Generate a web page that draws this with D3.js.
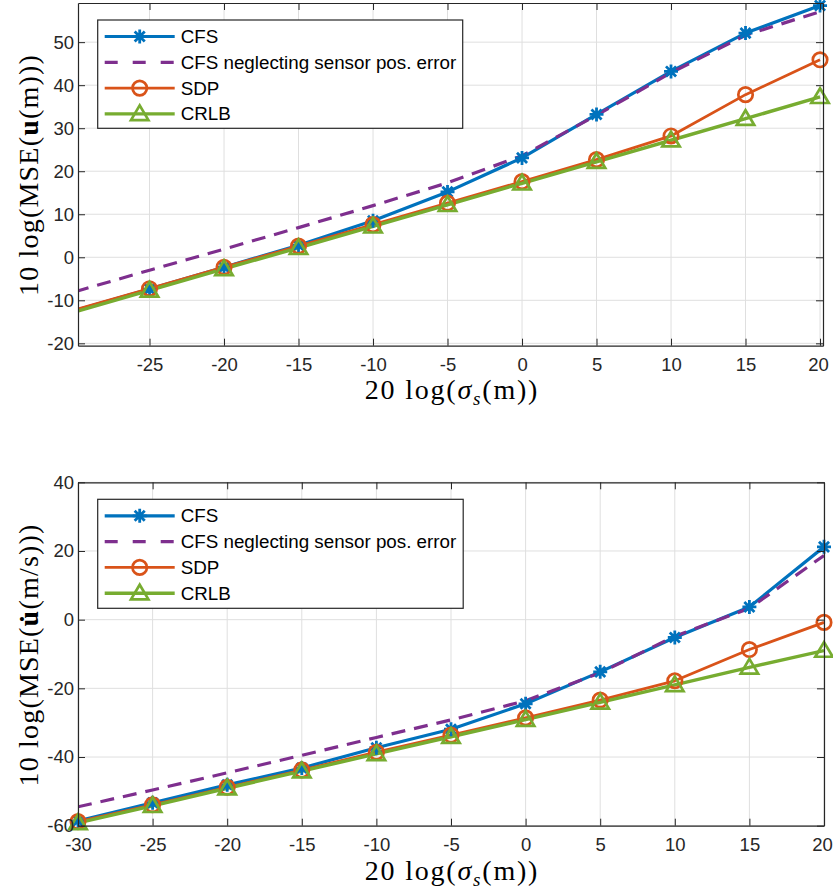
<!DOCTYPE html>
<html>
<head>
<meta charset="utf-8">
<script src="https://cdn.jsdelivr.net/npm/d3@7"></script>
<style>
  html, body { margin: 0; padding: 0; background: #fff; }
  svg { display: block; }
</style>
</head>
<body>
<svg id="chart" width="833" height="894"></svg>
<script>
// Sensor position noise level, 20 log(sigma_s) in dB
const sigma = [-30, -25, -20, -15, -10, -5, 0, 5, 10, 15, 20];

// Position MSE, 10 log(MSE(u)) in dB
const posCFS        = [-12.4, -7.4, -2.3, 2.8, 8.5, 15.2, 23.1, 33.2, 43.2, 52.1, 58.5];
const posCFSNeglect = [-8.0, -3.0, 1.9, 6.9, 12.0, 17.3, 23.6, 33.0, 42.9, 51.6, 57.1];
const posSDP        = [-12.2, -7.3, -2.3, 2.6, 7.6, 12.6, 17.6, 22.7, 28.2, 37.8, 45.9];
const posCRLB       = [-12.7, -7.7, -2.7, 2.2, 7.2, 12.2, 17.2, 22.2, 27.2, 32.2, 37.3];

// Velocity MSE, 10 log(MSE(u dot)) in dB
const velCFS        = [-58.6, -53.3, -48.1, -43.2, -37.3, -31.9, -24.5, -15.2, -5.2, 3.7, 21.2];
const velCFSNeglect = [-54.5, -49.6, -44.6, -39.5, -34.3, -29.2, -23.6, -15.5, -4.8, 3.3, 18.7];
const velSDP        = [-58.8, -53.9, -48.8, -43.8, -38.6, -33.6, -28.6, -23.4, -17.8, -8.7, -0.8];
const velCRLB       = [-59.2, -54.2, -49.1, -44.1, -39.1, -34.1, -29.1, -24.1, -19.0, -13.9, -9.0];

const seriesNames  = ["CFS", "CFS neglecting sensor pos. error", "SDP", "CRLB"];
const seriesColors = ["#0072BD", "#7E2F8E", "#D95319", "#77AC30"];
const seriesMarkers = ["star", "none", "circle", "triangle"];
const seriesDash   = [null, "14,9", null, null];
const seriesWidth  = [3.2, 3.2, 2.8, 3.4];

// Tick values for each panel
const xTicksTop    = [-25, -20, -15, -10, -5, 0, 5, 10, 15, 20];
const yTicksTop    = [-20, -10, 0, 10, 20, 30, 40, 50];
const xTicksBottom = [-30, -25, -20, -15, -10, -5, 0, 5, 10, 15, 20];
const yTicksBottom = [-60, -40, -20, 0, 20, 40];

const svg = d3.select("#chart");
const axisColor = "#262626";
const gridColor = "#dfdfdf";
const tickFont = "'Liberation Sans', Arial, sans-serif";
const mathFont = "'Liberation Serif', 'Times New Roman', serif";

function markerPath(kind) {
  if (kind === "star") {
    const r = 7, d = r * 0.72;
    return `M${-r},0L${r},0M0,${-r}L0,${r}M${-d},${-d}L${d},${d}M${-d},${d}L${d},${-d}`;
  }
  if (kind === "circle") {
    const r = 7.2;
    return `M${r},0A${r},${r} 0 1,1 ${-r},0A${r},${r} 0 1,1 ${r},0Z`;
  }
  if (kind === "triangle") {
    return "M0,-8.5L8.7,6.2L-8.7,6.2Z";
  }
  return null;
}

function drawPanel(cfg) {
  const g = svg.append("g");
  const x = d3.scaleLinear().domain(cfg.xDomain).range([cfg.left, cfg.right]);
  const y = d3.scaleLinear().domain(cfg.yDomain).range([cfg.bottom, cfg.top]);

  const clipId = "clip-" + cfg.id;
  svg.append("defs").append("clipPath").attr("id", clipId)
    .append("rect")
    .attr("x", cfg.left).attr("y", cfg.top)
    .attr("width", cfg.right - cfg.left).attr("height", cfg.bottom - cfg.top);

  // grid
  const grid = g.append("g");
  grid.selectAll("line.gx").data(cfg.xTicks).join("line")
    .attr("x1", d => x(d)).attr("x2", d => x(d))
    .attr("y1", cfg.top).attr("y2", cfg.bottom)
    .attr("stroke", gridColor).attr("stroke-width", 1);
  grid.selectAll("line.gy").data(cfg.yTicks).join("line")
    .attr("class", "gy")
    .attr("x1", cfg.left).attr("x2", cfg.right)
    .attr("y1", d => y(d)).attr("y2", d => y(d))
    .attr("stroke", gridColor).attr("stroke-width", 1);

  // series lines
  const lineGen = d3.line().x(d => x(d[0])).y(d => y(d[1]));
  const lines = g.append("g").attr("clip-path", `url(#${clipId})`);
  cfg.series.forEach((vals, i) => {
    const pts = sigma.map((s, k) => [s, vals[k]]);
    lines.append("path")
      .attr("d", lineGen(pts))
      .attr("fill", "none")
      .attr("stroke", seriesColors[i])
      .attr("stroke-width", seriesWidth[i])
      .attr("stroke-dasharray", seriesDash[i])
      .attr("stroke-linejoin", "round");
  });
  // markers at the sample points inside the x range
  const marks = g.append("g");
  cfg.series.forEach((vals, i) => {
    const p = markerPath(seriesMarkers[i]);
    if (!p) return;
    const pts = sigma.map((s, k) => [s, vals[k]])
      .filter(d => d[0] >= cfg.xDomain[0] && d[0] <= cfg.xDomain[1]);
    marks.selectAll(null).data(pts).join("path")
      .attr("d", p)
      .attr("transform", d => `translate(${x(d[0])},${y(d[1])})`)
      .attr("fill", "none")
      .attr("stroke", seriesColors[i])
      .attr("stroke-width", seriesMarkers[i] === "star" ? 2.8 : 2.7)
      .attr("stroke-linejoin", "miter");
  });

  // axes (box with inward ticks)
  const tk = 7;
  const fmt = d => d3.format("d")(d).replace("\u2212", "-");
  const axB = g.append("g").attr("transform", `translate(0,${cfg.bottom})`)
    .call(d3.axisBottom(x).tickValues(cfg.xTicks).tickSizeInner(-tk).tickSizeOuter(0).tickPadding(12).tickFormat(fmt));
  const axT = g.append("g").attr("transform", `translate(0,${cfg.top})`)
    .call(d3.axisTop(x).tickValues(cfg.xTicks).tickSizeInner(-tk).tickSizeOuter(0).tickFormat(""));
  const axL = g.append("g").attr("transform", `translate(${cfg.left},0)`)
    .call(d3.axisLeft(y).tickValues(cfg.yTicks).tickSizeInner(-tk).tickSizeOuter(0).tickPadding(4).tickFormat(fmt));
  const axR = g.append("g").attr("transform", `translate(${cfg.right},0)`)
    .call(d3.axisRight(y).tickValues(cfg.yTicks).tickSizeInner(-tk).tickSizeOuter(0).tickFormat(""));
  [axB, axT, axL, axR].forEach(a => {
    a.select(".domain").attr("stroke", axisColor).attr("stroke-width", 1.2);
    a.selectAll(".tick line").attr("stroke", axisColor).attr("stroke-width", 1);
    a.selectAll(".tick text")
      .attr("fill", axisColor)
      .style("font-family", tickFont)
      .style("font-size", "18.5px");
  });
  // keep the last x tick label inside the page
  axB.selectAll(".tick text").filter(d => d === cfg.xTicks[cfg.xTicks.length - 1])
    .attr("x", -2);

  // legend
  const lg = g.append("g");
  lg.append("rect")
    .attr("x", cfg.legend.x).attr("y", cfg.legend.y)
    .attr("width", cfg.legend.w).attr("height", cfg.legend.h)
    .attr("fill", "#fff").attr("stroke", axisColor).attr("stroke-width", 1.2);
  seriesNames.forEach((name, i) => {
    const ly = cfg.legend.y + 16.5 + i * 25.8;
    const lx0 = cfg.legend.x + 7, lx1 = cfg.legend.x + 77;
    lg.append("line")
      .attr("x1", lx0).attr("x2", lx1).attr("y1", ly).attr("y2", ly)
      .attr("stroke", seriesColors[i]).attr("stroke-width", seriesWidth[i])
      .attr("stroke-dasharray", seriesDash[i] ? "13,15" : null);
    const p = markerPath(seriesMarkers[i]);
    if (p) {
      lg.append("path").attr("d", p)
        .attr("transform", `translate(${(lx0 + lx1) / 2},${ly})`)
        .attr("fill", "none").attr("stroke", seriesColors[i])
        .attr("stroke-width", seriesMarkers[i] === "star" ? 2.8 : 2.7);
    }
    lg.append("text")
      .attr("x", cfg.legend.x + 83).attr("y", ly)
      .attr("dy", "0.35em")
      .attr("fill", "#000")
      .style("font-family", tickFont).style("font-size", "18.8px")
      .text(name);
  });

  // x label: 20 log(sigma_s(m))
  const xl = g.append("text")
    .attr("x", 452).attr("y", cfg.xLabelY)
    .attr("text-anchor", "middle")
    .attr("fill", "#000")
    .style("font-family", mathFont).style("font-size", "28px")
    .style("letter-spacing", "1.8px");
  xl.append("tspan").text("20 log(");
  xl.append("tspan").style("font-style", "italic").text("σ");
  xl.append("tspan").style("font-style", "italic").style("font-size", "19px").attr("dy", 6).text("s");
  xl.append("tspan").attr("dy", -6).text("(m))");

  // y label
  const yl = g.append("text")
    .attr("transform", `translate(${cfg.yLabelX},${cfg.yLabelY}) rotate(-90)`)
    .attr("text-anchor", "middle")
    .attr("fill", "#000")
    .style("font-family", mathFont).style("font-size", "28px")
    .style("letter-spacing", "1.2px");
  yl.append("tspan").text("10 log(MSE(");
  yl.append("tspan").style("font-weight", "bold").text(cfg.yVar);
  yl.append("tspan").text(cfg.yUnit);
}

drawPanel({
  id: "pos",
  xDomain: [-29.8, 20.2], yDomain: [-20.55, 59.1],
  left: 78, right: 823, top: 3, bottom: 345.7,
  xTicks: xTicksTop, yTicks: yTicksTop,
  series: [posCFS, posCFSNeglect, posSDP, posCRLB],
  legend: { x: 97.7, y: 20, w: 365, h: 108.3 },
  xLabelY: 399, yLabelX: 38, yLabelY: 175,
  yVar: "u", yUnit: "(m)))"
});

drawPanel({
  id: "vel",
  xDomain: [-30, 20], yDomain: [-60, 40],
  left: 78, right: 824, top: 482.3, bottom: 825.7,
  xTicks: xTicksBottom, yTicks: yTicksBottom,
  series: [velCFS, velCFSNeglect, velSDP, velCRLB],
  legend: { x: 97.7, y: 499.3, w: 365.5, h: 109 },
  xLabelY: 880, yLabelX: 38, yLabelY: 655,
  yVar: "u\u0307", yUnit: "(m/s)))"
});
</script>
</body>
</html>
